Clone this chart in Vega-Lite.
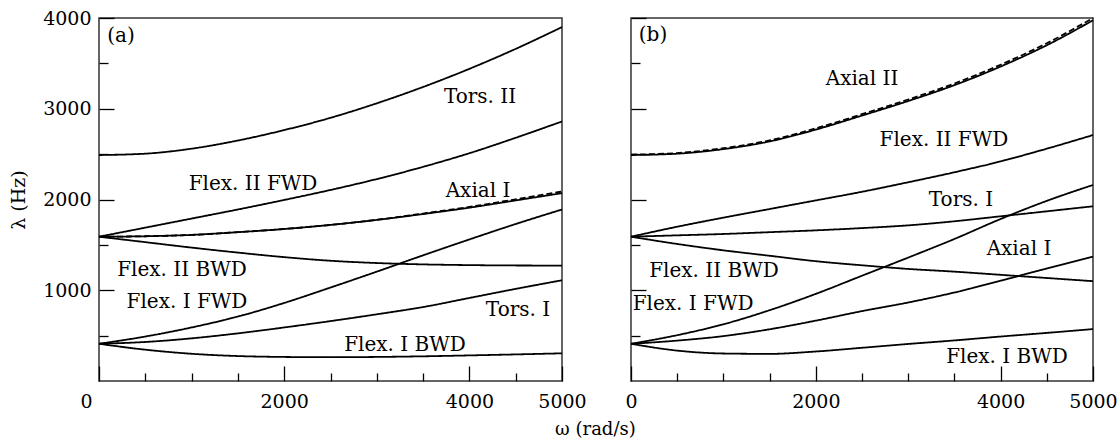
{
"$schema": "https://vega.github.io/schema/vega-lite/v6.json",
"padding": {"left": 8, "top": 8, "right": 5, "bottom": 0},
"spacing": 69,
"bounds": "flush",
"title": {"text": "ω (rad/s)", "orient": "bottom", "anchor": "middle", "frame": "bounds", "dx": 32, "font": "DejaVu Serif", "fontSize": 18, "fontWeight": "normal", "color": "black", "offset": 2},
"datasets": {
"curvesA": [
{"curve":"Tors II","style":"solid","omega":0,"lambda":2490},{"curve":"Tors II","style":"solid","omega":500,"lambda":2505},{"curve":"Tors II","style":"solid","omega":1000,"lambda":2560},{"curve":"Tors II","style":"solid","omega":1500,"lambda":2650},{"curve":"Tors II","style":"solid","omega":2000,"lambda":2765},{"curve":"Tors II","style":"solid","omega":2500,"lambda":2900},{"curve":"Tors II","style":"solid","omega":3000,"lambda":3060},{"curve":"Tors II","style":"solid","omega":3500,"lambda":3240},{"curve":"Tors II","style":"solid","omega":4000,"lambda":3440},{"curve":"Tors II","style":"solid","omega":4500,"lambda":3660},{"curve":"Tors II","style":"solid","omega":5000,"lambda":3900},
{"curve":"Flex II FWD","style":"solid","omega":0,"lambda":1590},{"curve":"Flex II FWD","style":"solid","omega":500,"lambda":1690},{"curve":"Flex II FWD","style":"solid","omega":1000,"lambda":1790},{"curve":"Flex II FWD","style":"solid","omega":1500,"lambda":1890},{"curve":"Flex II FWD","style":"solid","omega":2000,"lambda":1995},{"curve":"Flex II FWD","style":"solid","omega":2500,"lambda":2105},{"curve":"Flex II FWD","style":"solid","omega":3000,"lambda":2225},{"curve":"Flex II FWD","style":"solid","omega":3500,"lambda":2360},{"curve":"Flex II FWD","style":"solid","omega":4000,"lambda":2510},{"curve":"Flex II FWD","style":"solid","omega":4500,"lambda":2680},{"curve":"Flex II FWD","style":"solid","omega":5000,"lambda":2860},
{"curve":"Axial I","style":"solid","omega":0,"lambda":1590},{"curve":"Axial I","style":"solid","omega":500,"lambda":1595},{"curve":"Axial I","style":"solid","omega":1000,"lambda":1610},{"curve":"Axial I","style":"solid","omega":1500,"lambda":1640},{"curve":"Axial I","style":"solid","omega":2000,"lambda":1675},{"curve":"Axial I","style":"solid","omega":2500,"lambda":1720},{"curve":"Axial I","style":"solid","omega":3000,"lambda":1775},{"curve":"Axial I","style":"solid","omega":3500,"lambda":1840},{"curve":"Axial I","style":"solid","omega":4000,"lambda":1910},{"curve":"Axial I","style":"solid","omega":4500,"lambda":1990},{"curve":"Axial I","style":"solid","omega":5000,"lambda":2070},
{"curve":"Axial I dashed","style":"dashed","omega":0,"lambda":1590},{"curve":"Axial I dashed","style":"dashed","omega":500,"lambda":1595},{"curve":"Axial I dashed","style":"dashed","omega":1000,"lambda":1610},{"curve":"Axial I dashed","style":"dashed","omega":1500,"lambda":1640},{"curve":"Axial I dashed","style":"dashed","omega":2000,"lambda":1675},{"curve":"Axial I dashed","style":"dashed","omega":2500,"lambda":1720},{"curve":"Axial I dashed","style":"dashed","omega":3000,"lambda":1777},{"curve":"Axial I dashed","style":"dashed","omega":3500,"lambda":1845},{"curve":"Axial I dashed","style":"dashed","omega":4000,"lambda":1918},{"curve":"Axial I dashed","style":"dashed","omega":4500,"lambda":2002},{"curve":"Axial I dashed","style":"dashed","omega":5000,"lambda":2088},
{"curve":"Flex II BWD","style":"solid","omega":0,"lambda":1590},{"curve":"Flex II BWD","style":"solid","omega":500,"lambda":1530},{"curve":"Flex II BWD","style":"solid","omega":1000,"lambda":1470},{"curve":"Flex II BWD","style":"solid","omega":1500,"lambda":1415},{"curve":"Flex II BWD","style":"solid","omega":2000,"lambda":1365},{"curve":"Flex II BWD","style":"solid","omega":2500,"lambda":1325},{"curve":"Flex II BWD","style":"solid","omega":3000,"lambda":1300},{"curve":"Flex II BWD","style":"solid","omega":3500,"lambda":1285},{"curve":"Flex II BWD","style":"solid","omega":4000,"lambda":1277},{"curve":"Flex II BWD","style":"solid","omega":4500,"lambda":1273},{"curve":"Flex II BWD","style":"solid","omega":5000,"lambda":1272},
{"curve":"Flex I FWD","style":"solid","omega":0,"lambda":410},{"curve":"Flex I FWD","style":"solid","omega":500,"lambda":490},{"curve":"Flex I FWD","style":"solid","omega":1000,"lambda":590},{"curve":"Flex I FWD","style":"solid","omega":1500,"lambda":710},{"curve":"Flex I FWD","style":"solid","omega":2000,"lambda":860},{"curve":"Flex I FWD","style":"solid","omega":2500,"lambda":1030},{"curve":"Flex I FWD","style":"solid","omega":3000,"lambda":1205},{"curve":"Flex I FWD","style":"solid","omega":3500,"lambda":1385},{"curve":"Flex I FWD","style":"solid","omega":4000,"lambda":1560},{"curve":"Flex I FWD","style":"solid","omega":4500,"lambda":1730},{"curve":"Flex I FWD","style":"solid","omega":5000,"lambda":1890},
{"curve":"Tors I","style":"solid","omega":0,"lambda":410},{"curve":"Tors I","style":"solid","omega":500,"lambda":430},{"curve":"Tors I","style":"solid","omega":1000,"lambda":470},{"curve":"Tors I","style":"solid","omega":1500,"lambda":525},{"curve":"Tors I","style":"solid","omega":2000,"lambda":590},{"curve":"Tors I","style":"solid","omega":2500,"lambda":660},{"curve":"Tors I","style":"solid","omega":3000,"lambda":735},{"curve":"Tors I","style":"solid","omega":3500,"lambda":815},{"curve":"Tors I","style":"solid","omega":4000,"lambda":915},{"curve":"Tors I","style":"solid","omega":4500,"lambda":1015},{"curve":"Tors I","style":"solid","omega":5000,"lambda":1110},
{"curve":"Flex I BWD","style":"solid","omega":0,"lambda":410},{"curve":"Flex I BWD","style":"solid","omega":500,"lambda":345},{"curve":"Flex I BWD","style":"solid","omega":1000,"lambda":300},{"curve":"Flex I BWD","style":"solid","omega":1500,"lambda":275},{"curve":"Flex I BWD","style":"solid","omega":2000,"lambda":265},{"curve":"Flex I BWD","style":"solid","omega":2500,"lambda":262},{"curve":"Flex I BWD","style":"solid","omega":3000,"lambda":265},{"curve":"Flex I BWD","style":"solid","omega":3500,"lambda":272},{"curve":"Flex I BWD","style":"solid","omega":4000,"lambda":282},{"curve":"Flex I BWD","style":"solid","omega":4500,"lambda":293},{"curve":"Flex I BWD","style":"solid","omega":5000,"lambda":305}
],
"curvesB": [
{"curve":"Axial II","style":"solid","omega":0,"lambda":2490},{"curve":"Axial II","style":"solid","omega":500,"lambda":2505},{"curve":"Axial II","style":"solid","omega":1000,"lambda":2555},{"curve":"Axial II","style":"solid","omega":1500,"lambda":2640},{"curve":"Axial II","style":"solid","omega":2000,"lambda":2770},{"curve":"Axial II","style":"solid","omega":2500,"lambda":2925},{"curve":"Axial II","style":"solid","omega":3000,"lambda":3085},{"curve":"Axial II","style":"solid","omega":3500,"lambda":3260},{"curve":"Axial II","style":"solid","omega":4000,"lambda":3465},{"curve":"Axial II","style":"solid","omega":4500,"lambda":3700},{"curve":"Axial II","style":"solid","omega":5000,"lambda":3975},
{"curve":"Axial II dashed","style":"dashed","omega":0,"lambda":2495},{"curve":"Axial II dashed","style":"dashed","omega":500,"lambda":2512},{"curve":"Axial II dashed","style":"dashed","omega":1000,"lambda":2565},{"curve":"Axial II dashed","style":"dashed","omega":1500,"lambda":2652},{"curve":"Axial II dashed","style":"dashed","omega":2000,"lambda":2784},{"curve":"Axial II dashed","style":"dashed","omega":2500,"lambda":2940},{"curve":"Axial II dashed","style":"dashed","omega":3000,"lambda":3102},{"curve":"Axial II dashed","style":"dashed","omega":3500,"lambda":3278},{"curve":"Axial II dashed","style":"dashed","omega":4000,"lambda":3485},{"curve":"Axial II dashed","style":"dashed","omega":4500,"lambda":3722},{"curve":"Axial II dashed","style":"dashed","omega":5000,"lambda":4000},
{"curve":"Flex II FWD","style":"solid","omega":0,"lambda":1590},{"curve":"Flex II FWD","style":"solid","omega":500,"lambda":1700},{"curve":"Flex II FWD","style":"solid","omega":1000,"lambda":1800},{"curve":"Flex II FWD","style":"solid","omega":1500,"lambda":1895},{"curve":"Flex II FWD","style":"solid","omega":2000,"lambda":1990},{"curve":"Flex II FWD","style":"solid","omega":2500,"lambda":2085},{"curve":"Flex II FWD","style":"solid","omega":3000,"lambda":2190},{"curve":"Flex II FWD","style":"solid","omega":3500,"lambda":2300},{"curve":"Flex II FWD","style":"solid","omega":4000,"lambda":2420},{"curve":"Flex II FWD","style":"solid","omega":4500,"lambda":2560},{"curve":"Flex II FWD","style":"solid","omega":5000,"lambda":2710},
{"curve":"Tors I","style":"solid","omega":0,"lambda":1590},{"curve":"Tors I","style":"solid","omega":500,"lambda":1605},{"curve":"Tors I","style":"solid","omega":1000,"lambda":1620},{"curve":"Tors I","style":"solid","omega":1500,"lambda":1640},{"curve":"Tors I","style":"solid","omega":2000,"lambda":1660},{"curve":"Tors I","style":"solid","omega":2500,"lambda":1685},{"curve":"Tors I","style":"solid","omega":3000,"lambda":1715},{"curve":"Tors I","style":"solid","omega":3500,"lambda":1760},{"curve":"Tors I","style":"solid","omega":4000,"lambda":1815},{"curve":"Tors I","style":"solid","omega":4500,"lambda":1870},{"curve":"Tors I","style":"solid","omega":5000,"lambda":1925},
{"curve":"Flex II BWD","style":"solid","omega":0,"lambda":1590},{"curve":"Flex II BWD","style":"solid","omega":500,"lambda":1510},{"curve":"Flex II BWD","style":"solid","omega":1000,"lambda":1440},{"curve":"Flex II BWD","style":"solid","omega":1500,"lambda":1380},{"curve":"Flex II BWD","style":"solid","omega":2000,"lambda":1320},{"curve":"Flex II BWD","style":"solid","omega":2500,"lambda":1275},{"curve":"Flex II BWD","style":"solid","omega":3000,"lambda":1235},{"curve":"Flex II BWD","style":"solid","omega":3500,"lambda":1205},{"curve":"Flex II BWD","style":"solid","omega":4000,"lambda":1170},{"curve":"Flex II BWD","style":"solid","omega":4500,"lambda":1135},{"curve":"Flex II BWD","style":"solid","omega":5000,"lambda":1100},
{"curve":"Flex I FWD","style":"solid","omega":0,"lambda":410},{"curve":"Flex I FWD","style":"solid","omega":500,"lambda":505},{"curve":"Flex I FWD","style":"solid","omega":1000,"lambda":625},{"curve":"Flex I FWD","style":"solid","omega":1500,"lambda":780},{"curve":"Flex I FWD","style":"solid","omega":2000,"lambda":960},{"curve":"Flex I FWD","style":"solid","omega":2500,"lambda":1160},{"curve":"Flex I FWD","style":"solid","omega":3000,"lambda":1360},{"curve":"Flex I FWD","style":"solid","omega":3500,"lambda":1565},{"curve":"Flex I FWD","style":"solid","omega":4000,"lambda":1785},{"curve":"Flex I FWD","style":"solid","omega":4500,"lambda":1985},{"curve":"Flex I FWD","style":"solid","omega":5000,"lambda":2160},
{"curve":"Axial I","style":"solid","omega":0,"lambda":410},{"curve":"Axial I","style":"solid","omega":500,"lambda":445},{"curve":"Axial I","style":"solid","omega":1000,"lambda":495},{"curve":"Axial I","style":"solid","omega":1500,"lambda":570},{"curve":"Axial I","style":"solid","omega":2000,"lambda":665},{"curve":"Axial I","style":"solid","omega":2500,"lambda":770},{"curve":"Axial I","style":"solid","omega":3000,"lambda":865},{"curve":"Axial I","style":"solid","omega":3500,"lambda":975},{"curve":"Axial I","style":"solid","omega":4000,"lambda":1105},{"curve":"Axial I","style":"solid","omega":4500,"lambda":1240},{"curve":"Axial I","style":"solid","omega":5000,"lambda":1370},
{"curve":"Flex I BWD","style":"solid","omega":0,"lambda":410},{"curve":"Flex I BWD","style":"solid","omega":500,"lambda":335},{"curve":"Flex I BWD","style":"solid","omega":1000,"lambda":303},{"curve":"Flex I BWD","style":"solid","omega":1500,"lambda":299},{"curve":"Flex I BWD","style":"solid","omega":2000,"lambda":325},{"curve":"Flex I BWD","style":"solid","omega":2500,"lambda":366},{"curve":"Flex I BWD","style":"solid","omega":3000,"lambda":408},{"curve":"Flex I BWD","style":"solid","omega":3500,"lambda":447},{"curve":"Flex I BWD","style":"solid","omega":4000,"lambda":490},{"curve":"Flex I BWD","style":"solid","omega":4500,"lambda":530},{"curve":"Flex I BWD","style":"solid","omega":5000,"lambda":572}
],
"labelsA": [
{"label":"(a)","omega":238,"lambda":3800},
{"label":"Tors. II","omega":4114,"lambda":3130},
{"label":"Flex. II FWD","omega":1663,"lambda":2170},
{"label":"Axial I","omega":4093,"lambda":2095},
{"label":"Flex. II BWD","omega":896,"lambda":1223},
{"label":"Flex. I FWD","omega":950,"lambda":870},
{"label":"Tors. I","omega":4525,"lambda":782},
{"label":"Flex. I BWD","omega":3305,"lambda":397}
],
"labelsB": [
{"label":"(b)","omega":238,"lambda":3810},
{"label":"Axial II","omega":2500,"lambda":3328},
{"label":"Flex. II FWD","omega":3387,"lambda":2655},
{"label":"Tors. I","omega":3571,"lambda":1995},
{"label":"Axial I","omega":4199,"lambda":1455},
{"label":"Flex. II BWD","omega":898,"lambda":1212},
{"label":"Flex. I FWD","omega":672,"lambda":848},
{"label":"Flex. I BWD","omega":4069,"lambda":264}
]
},
"hconcat": [
{
"width": 463, "height": 363,
"layer": [
{"data": {"name": "curvesA"},
 "mark": {"type": "line", "color": "black", "strokeWidth": 1.8, "interpolate": "monotone"},
 "encoding": {
  "x": {"field": "omega", "type": "quantitative", "scale": {"domain": [0, 5000], "nice": false},
        "axis": {"title": null, "values": [0,500,1000,1500,2000,2500,3000,3500,4000,4500,5000], "format": "d",
                 "labelExpr": "datum.value == 0 || datum.value == 2000 || datum.value == 4000 || datum.value == 5000 ? datum.label : ''",
                 "tickSize": {"condition": {"test": "datum.value == 0 || datum.value == 2000 || datum.value == 4000 || datum.value == 5000", "value": -15}, "value": -8},
                 "labelOffset": {"condition": {"test": "datum.value == 0", "value": -13}, "value": 0},
                 "labelPadding": 26, "labelFlush": false, "labelOverlap": false}},
  "y": {"field": "lambda", "type": "quantitative", "scale": {"domain": [0, 4000], "nice": false},
        "axis": {"title": "λ (Hz)", "values": [500,1000,1500,2000,2500,3000,3500,4000], "format": "d",
                 "labelExpr": "datum.value % 1000 == 0 ? datum.label : ''",
                 "tickSize": {"condition": {"test": "datum.value % 1000 == 0", "value": -15}, "value": -9},
                 "labelPadding": 23, "titlePadding": 14, "labelOverlap": false}},
  "detail": {"field": "curve", "type": "nominal"},
  "strokeDash": {"field": "style", "type": "nominal", "scale": {"domain": ["solid", "dashed"], "range": [[1, 0], [6, 3]]}, "legend": null}
 }},
{"data": {"name": "labelsA"},
 "mark": {"type": "text", "font": "DejaVu Serif", "fontSize": 20, "color": "black", "baseline": "middle", "align": "center"},
 "encoding": {
  "x": {"field": "omega", "type": "quantitative"},
  "y": {"field": "lambda", "type": "quantitative"},
  "text": {"field": "label", "type": "nominal"}
 }}
]
},
{
"width": 462, "height": 363,
"layer": [
{"data": {"name": "curvesB"},
 "mark": {"type": "line", "color": "black", "strokeWidth": 1.8, "interpolate": "monotone"},
 "encoding": {
  "x": {"field": "omega", "type": "quantitative", "scale": {"domain": [0, 5000], "nice": false},
        "axis": {"title": null, "values": [0,500,1000,1500,2000,2500,3000,3500,4000,4500,5000], "format": "d",
                 "labelExpr": "datum.value == 0 || datum.value == 2000 || datum.value == 4000 || datum.value == 5000 ? datum.label : ''",
                 "tickSize": {"condition": {"test": "datum.value == 0 || datum.value == 2000 || datum.value == 4000 || datum.value == 5000", "value": -15}, "value": -8},
                 "labelPadding": 26, "labelFlush": false, "labelOverlap": false}},
  "y": {"field": "lambda", "type": "quantitative", "scale": {"domain": [0, 4000], "nice": false},
        "axis": {"title": null, "labels": false, "values": [500,1000,1500,2000,2500,3000,3500,4000],
                 "tickSize": {"condition": {"test": "datum.value % 1000 == 0", "value": -15}, "value": -9}}},
  "detail": {"field": "curve", "type": "nominal"},
  "strokeDash": {"field": "style", "type": "nominal", "scale": {"domain": ["solid", "dashed"], "range": [[1, 0], [6, 3]]}, "legend": null}
 }},
{"data": {"name": "labelsB"},
 "mark": {"type": "text", "font": "DejaVu Serif", "fontSize": 20, "color": "black", "baseline": "middle", "align": "center"},
 "encoding": {
  "x": {"field": "omega", "type": "quantitative"},
  "y": {"field": "lambda", "type": "quantitative"},
  "text": {"field": "label", "type": "nominal"}
 }}
]
}
],
"config": {
 "view": {"stroke": "#333333", "strokeWidth": 1.5},
 "axis": {"labelFont": "DejaVu Serif", "labelFontSize": 19, "labelColor": "black", "titleFont": "DejaVu Serif", "titleFontSize": 19, "titleFontWeight": "normal", "titleColor": "black", "tickColor": "black", "tickWidth": 1.3, "domain": false, "grid": false}
}
}
